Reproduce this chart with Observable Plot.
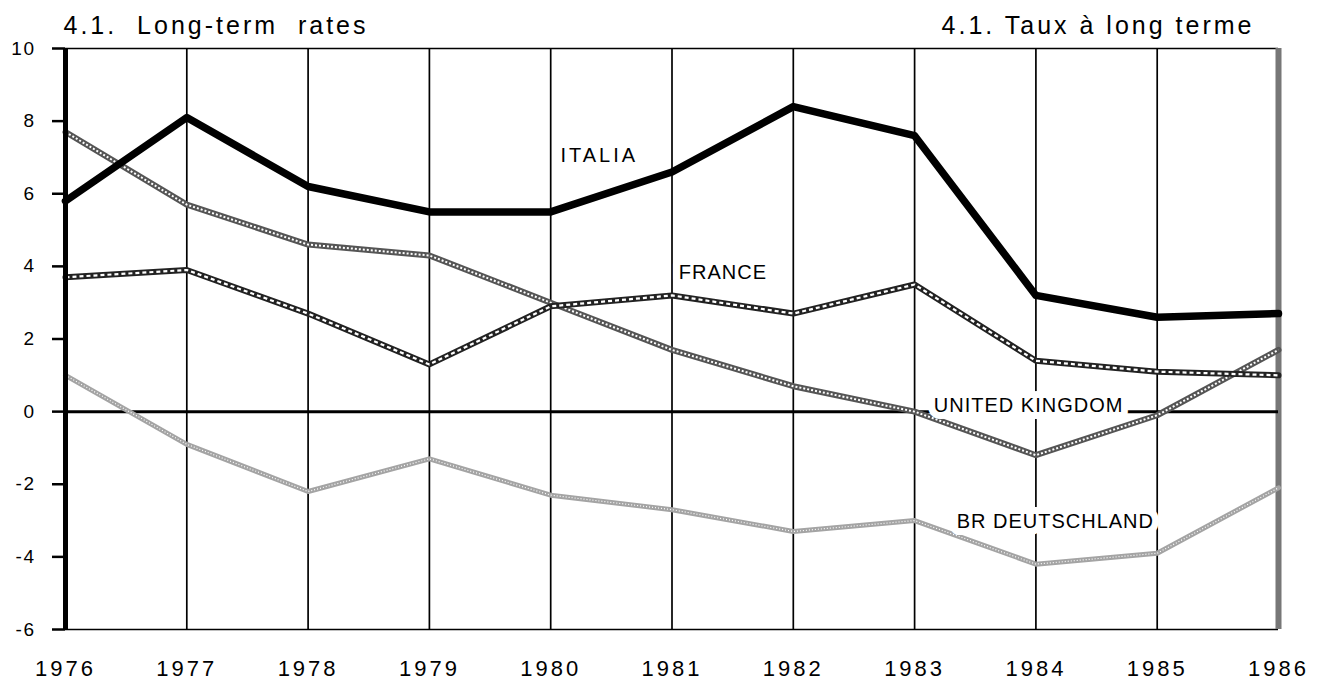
<!DOCTYPE html>
<html><head><meta charset="utf-8">
<script src="https://cdn.jsdelivr.net/npm/d3@7"></script>
<script src="https://cdn.jsdelivr.net/npm/@observablehq/plot@0.6"></script>
<style>body{margin:0;background:#fff;font-family:"Liberation Sans",Arial,sans-serif;}</style>
</head><body><div id="chart"></div>
<script>
const years = [1976,1977,1978,1979,1980,1981,1982,1983,1984,1985,1986];
const italia  = [5.8,8.1,6.2,5.5,5.5,6.6,8.4,7.6,3.2,2.6,2.7];
const uk      = [7.7,5.7,4.6,4.3,3.0,1.7,0.7,0.0,-1.2,-0.1,1.7];
const france  = [3.7,3.9,2.7,1.3,2.9,3.2,2.7,3.5,1.4,1.1,1.0];
const germany = [1.0,-0.9,-2.2,-1.3,-2.3,-2.7,-3.3,-3.0,-4.2,-3.9,-2.1];
const yTicks = [-6,-4,-2,0,2,4,6,8,10];
const seriesNames = ["ITALIA","FRANCE","UNITED KINGDOM","BR DEUTSCHLAND"];
const labelYears  = [1980.4,1981.42,1983.94,1984.16];
const labelValues = [7.05,3.83,0.16,-3.03];
const titleLeft = "4.1.  Long-term  rates";
const titleRight = "4.1. Taux à long terme";

const toRows = vals => years.map((x,i) => ({x, y: vals[i]}));
const labels = seriesNames.map((name,i) => ({name, x: labelYears[i], y: labelValues[i]}));

const chart = Plot.plot({
  width: 1318, height: 680,
  marginLeft: 65, marginRight: 40, marginTop: 48, marginBottom: 51,
  style: {fontFamily: '"Liberation Sans", Arial, sans-serif', color: "#000", background: "#fff"},
  x: {domain: [1976, 1986]},
  y: {domain: [-6, 10]},
  marks: [
    Plot.ruleX(years.slice(1, -1), {stroke: "#000", strokeWidth: 1.7}),
    Plot.ruleY([10, -6], {stroke: "#000", strokeWidth: 1.7}),
    Plot.ruleX([1986], {stroke: "#777", strokeWidth: 6}),
    Plot.ruleY([0], {stroke: "#000", strokeWidth: 3}),
    Plot.line(toRows(germany), {x: "x", y: "y", stroke: "#a4a4a4", strokeWidth: 5}),
    Plot.line(toRows(germany), {x: "x", y: "y", stroke: "#fff", strokeWidth: 1.2, strokeDasharray: "1 2", strokeLinecap: "butt"}),
    Plot.line(toRows(uk), {x: "x", y: "y", stroke: "#555", strokeWidth: 6}),
    Plot.line(toRows(uk), {x: "x", y: "y", stroke: "#fff", strokeWidth: 2, strokeDasharray: "2 2", strokeLinecap: "butt"}),
    Plot.line(toRows(france), {x: "x", y: "y", stroke: "#222", strokeWidth: 6}),
    Plot.line(toRows(france), {x: "x", y: "y", stroke: "#fff", strokeWidth: 2.2, strokeDasharray: "4 3", strokeLinecap: "butt"}),
    Plot.line(toRows(italia), {x: "x", y: "y", stroke: "#000", strokeWidth: 7.5}),
    Plot.ruleX([1976], {stroke: "#000", strokeWidth: 5}),
    Plot.text(labels, {x: "x", y: "y", text: "name", fontSize: 20, fill: "#000", stroke: "#fff", strokeWidth: 14, paintOrder: "stroke", strokeLinejoin: "round"}),
    Plot.text([titleLeft], {frameAnchor: "top-left", textAnchor: "start", lineAnchor: "middle", dx: -2, dy: -23, fontSize: 25, fill: "#000"}),
    Plot.text([titleRight], {frameAnchor: "top-right", textAnchor: "end", lineAnchor: "middle", dx: -24, dy: -23, fontSize: 25, fill: "#000"}),
    Plot.axisY({ticks: yTicks, tickSize: 13, tickPadding: 17, strokeWidth: 2.5, tickFormat: d => String(d), fontSize: 19, label: null}),
    Plot.axisX({ticks: years, tickSize: 0, tickPadding: 31, tickFormat: d => String(d), fontSize: 22, label: null})
  ]
});
document.getElementById("chart").appendChild(chart);
const spacing = {"ITALIA": "3px", "FRANCE": "1px", "UNITED KINGDOM": "1px", "BR DEUTSCHLAND": "1px"};
spacing[titleLeft] = "3px";
spacing[titleRight] = "3px";
d3.select(chart).selectAll("text").each(function() {
  const t = this.textContent;
  if (spacing[t]) this.style.letterSpacing = spacing[t];
});
d3.select(chart).selectAll('[aria-label="x-axis tick label"] text').style("letter-spacing", "3px");
d3.select(chart).selectAll('[aria-label="y-axis tick label"] text').style("letter-spacing", "1.5px");
</script>
</body></html>
